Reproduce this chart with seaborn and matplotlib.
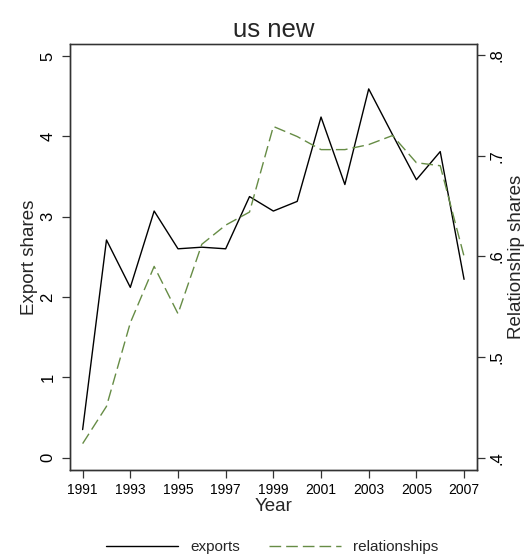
import matplotlib
matplotlib.use("Agg")
import matplotlib.pyplot as plt
import seaborn as sns

years = list(range(1991, 2008))
exports = [0.35, 2.71, 2.12, 3.07, 2.60, 2.62, 2.60, 3.25, 3.07, 3.19,
           4.24, 3.40, 4.59, 4.02, 3.46, 3.81, 2.22]
relationships = [0.414, 0.451, 0.534, 0.590, 0.543, 0.612, 0.631, 0.644,
                 0.729, 0.719, 0.706, 0.706, 0.711, 0.720, 0.693, 0.690,
                 0.600]
x_ticks = list(range(1991, 2008, 2))
left_ticks = [0, 1, 2, 3, 4, 5]
right_ticks = [0.4, 0.5, 0.6, 0.7, 0.8]
right_labels = ['.4', '.5', '.6', '.7', '.8']

sns.set_style("ticks")
plt.rcParams['font.family'] = ['Liberation Sans', 'DejaVu Sans']

green = '#668c45'
edge = '#333333'

fig = plt.figure(figsize=(5.27, 5.56), dpi=100)
ax = fig.add_axes([70 / 527, 1 - 470 / 556, 406.7 / 527, 426 / 556])
ax2 = ax.twinx()

sns.lineplot(x=years, y=exports, ax=ax, color='black', linewidth=1.0,
             label='exports', legend=False)
sns.lineplot(x=years, y=relationships, ax=ax2, color=green, linewidth=1.0,
             dashes=False, label='relationships', legend=False)
ax2.get_lines()[0].set_dashes((8.4, 3.6))

ax.set_xlim(1990.47, 2007.53)
ax.set_ylim(-0.153, 5.149)
ax2.set_ylim(0.3878, 0.8109)

ax.set_xticks(x_ticks)
ax.set_yticks(left_ticks)
ax2.set_yticks(right_ticks)
ax2.set_yticklabels(right_labels)

for a in (ax, ax2):
    for sp in a.spines.values():
        sp.set_color(edge)
        sp.set_linewidth(1.0)
    a.tick_params(direction='out', length=5.5, width=0.9, color=edge,
                  labelsize=10, labelcolor='black')
ax.spines['top'].set_color('#777777')
ax.tick_params(axis='x', pad=3.5)
ax.tick_params(axis='y', labelrotation=90, pad=5, labelsize=12)
ax2.tick_params(axis='y', labelrotation=90, pad=3.5, labelsize=12)
for lab in ax.get_yticklabels():
    lab.set_va('center')
for lab in ax2.get_yticklabels():
    lab.set_va('center')

ax.set_xlabel('Year', fontsize=13.5, labelpad=1)
ax.set_ylabel('Export shares', fontsize=13.5, labelpad=2)
ax2.set_ylabel('Relationship shares', fontsize=13.5, labelpad=3)
ax.set_title('us new', fontsize=18.5, pad=5)

handles = [ax.get_lines()[0], ax2.get_lines()[0]]
fig.legend(handles, ['exports', 'relationships'], loc='center',
           bbox_to_anchor=(272 / 527, 9 / 556), ncol=2, frameon=False,
           fontsize=11, handlelength=4.7, handletextpad=0.8,
           columnspacing=1.9)

fig.savefig('out.png', dpi=100, facecolor='white')
